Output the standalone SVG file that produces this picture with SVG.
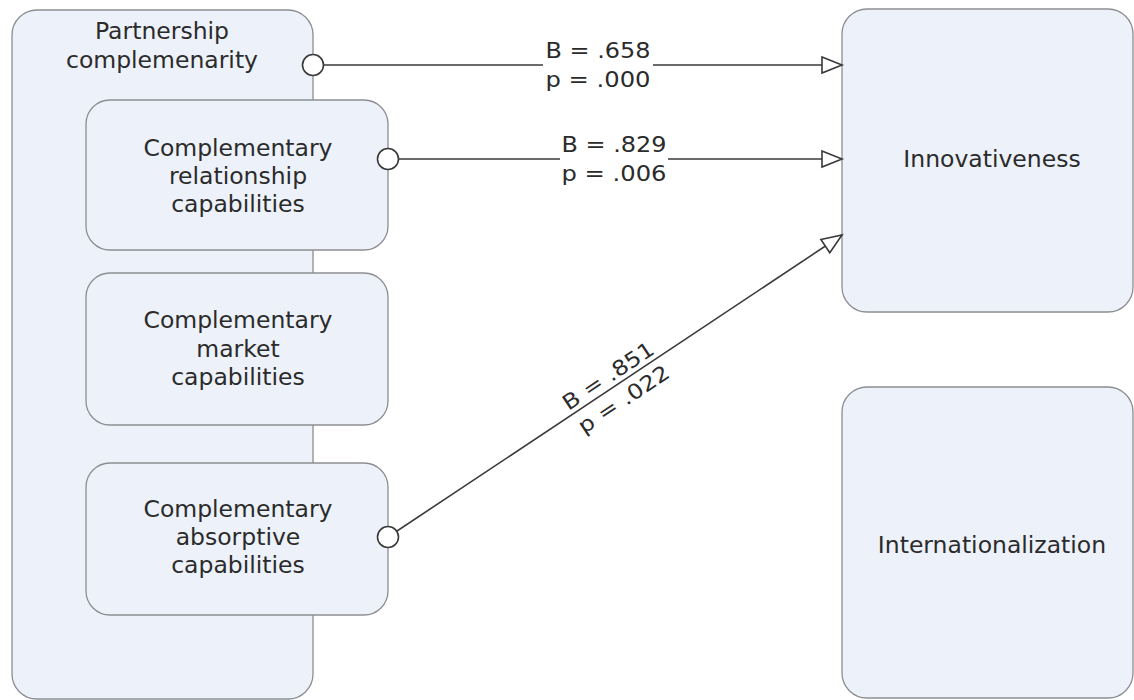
<svg xmlns="http://www.w3.org/2000/svg" width="1134" height="700" viewBox="0 0 1134 700">
<style>
.box{fill:#edf1f9;stroke:#8c8e92;stroke-width:1.3}
.t{font-family:"DejaVu Sans",Verdana,sans-serif;font-size:23.5px;fill:#2b2b2b;text-anchor:middle}
.lbl{font-family:"DejaVu Sans",Verdana,sans-serif;font-size:21px;fill:#2b2b2b;text-anchor:middle}
.ln{stroke:#3a3a3a;stroke-width:1.6;fill:none}
.dot{fill:#fff;stroke:#3a3a3a;stroke-width:1.6}
</style>
<defs>
<marker id="tri" markerWidth="22" markerHeight="18" refX="20" refY="8" orient="auto" markerUnits="userSpaceOnUse" overflow="visible">
<path d="M0,0 L20,8 L0,16 Z" fill="#fff" stroke="#3a3a3a" stroke-width="1.6"/>
</marker>
</defs>
<rect width="1134" height="700" fill="#fff"/>
<g id="partnership">
<rect class="box" x="12" y="10" width="301" height="689" rx="25"/>
<text class="t"><tspan x="162" y="39">Partnership</tspan><tspan x="162" y="68">complemenarity</tspan></text>
</g>
<g id="relationship">
<rect class="box" x="86" y="100" width="302" height="150" rx="24"/>
<text class="t"><tspan x="238" y="156">Complementary</tspan><tspan x="238" y="184">relationship</tspan><tspan x="238" y="212">capabilities</tspan></text>
</g>
<g id="market">
<rect class="box" x="86" y="273" width="302" height="152" rx="24"/>
<text class="t"><tspan x="238" y="328">Complementary</tspan><tspan x="238" y="357">market</tspan><tspan x="238" y="385">capabilities</tspan></text>
</g>
<g id="absorptive">
<rect class="box" x="86" y="463" width="302" height="152" rx="24"/>
<text class="t"><tspan x="238" y="517">Complementary</tspan><tspan x="238" y="545">absorptive</tspan><tspan x="238" y="573">capabilities</tspan></text>
</g>
<g id="innovativeness">
<rect class="box" x="842" y="9" width="291" height="303" rx="25"/>
<text class="t" x="992" y="167">Innovativeness</text>
</g>
<g id="internationalization">
<rect class="box" x="842" y="387" width="291" height="311" rx="25"/>
<text class="t" x="992" y="553">Internationalization</text>
</g>
<g id="connectors">
<line class="ln" x1="313" y1="65" x2="842" y2="65" marker-end="url(#tri)"/>
<rect x="543" y="40" width="110" height="56" fill="#fff"/>
<text class="lbl" x="598" y="58" textLength="105" lengthAdjust="spacingAndGlyphs">B = .658</text>
<text class="lbl" x="598" y="87" textLength="105" lengthAdjust="spacingAndGlyphs">p = .000</text>
<circle class="dot" cx="313" cy="65" r="10.5"/>
<line class="ln" x1="388" y1="159" x2="842" y2="159" marker-end="url(#tri)"/>
<rect x="560" y="134" width="108" height="56" fill="#fff"/>
<text class="lbl" x="614" y="152" textLength="105" lengthAdjust="spacingAndGlyphs">B = .829</text>
<text class="lbl" x="614" y="181" textLength="105" lengthAdjust="spacingAndGlyphs">p = .006</text>
<circle class="dot" cx="388" cy="159" r="10.5"/>
<line class="ln" x1="388" y1="537" x2="842" y2="235" marker-end="url(#tri)"/>
<g transform="translate(615,386) rotate(-33.6)">
<text class="lbl" x="0" y="-5" textLength="105" lengthAdjust="spacingAndGlyphs">B = .851</text>
<text class="lbl" x="0" y="23" textLength="105" lengthAdjust="spacingAndGlyphs">p = .022</text>
</g>
<circle class="dot" cx="388" cy="537" r="10.5"/>
</g>
</svg>
